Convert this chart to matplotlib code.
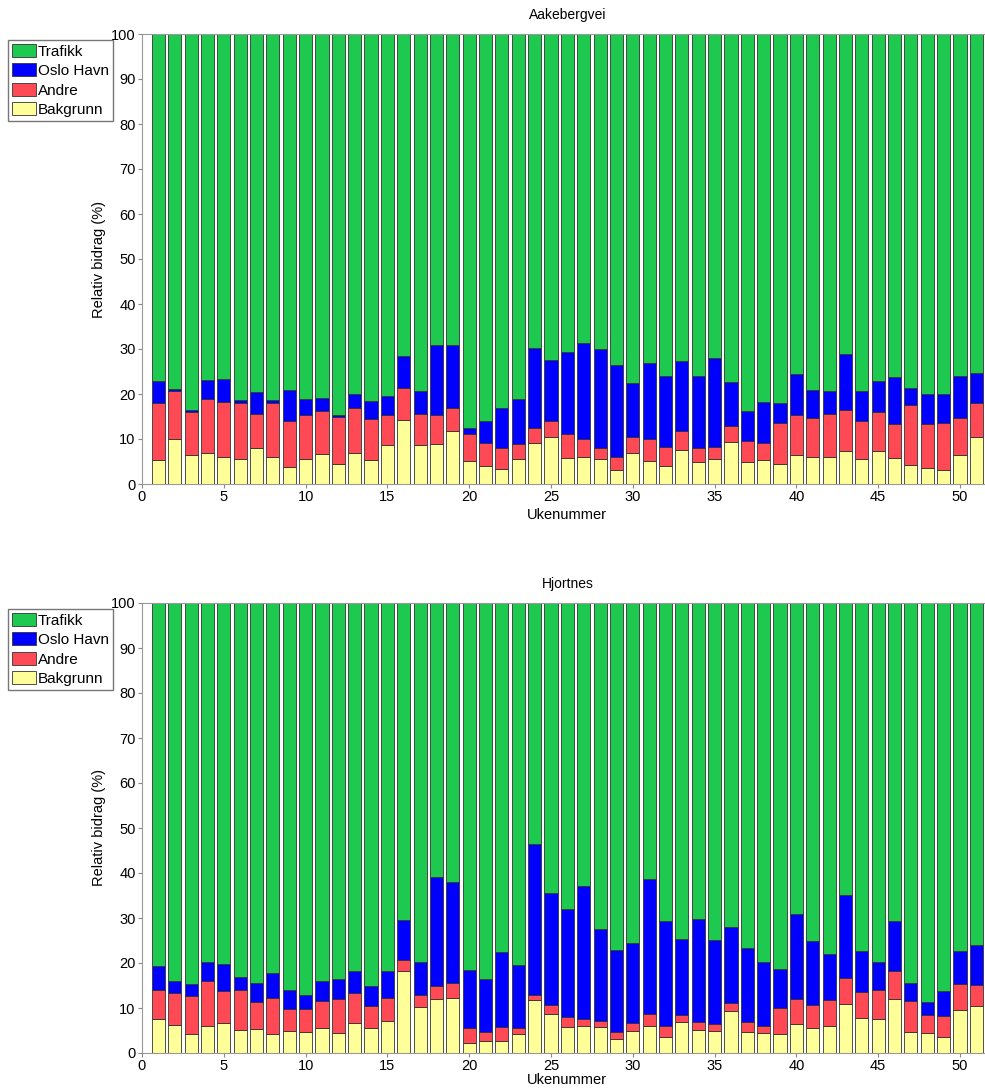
import numpy as np
import matplotlib
matplotlib.use("Agg")
import matplotlib.pyplot as plt
from matplotlib.patches import Patch

plt.rcParams['font.family'] = ['Liberation Sans', 'DejaVu Sans']

uker = np.arange(1, 52)

# Aakebergvei (relativ bidrag i %)
aak_bakgrunn = [5.3, 10.0, 6.4, 6.8, 5.9, 5.6, 8.1, 5.9, 3.8, 5.6, 6.7, 4.4, 6.8, 5.3, 8.7, 14.3, 8.6,
                8.9, 11.7, 5.2, 4.1, 3.3, 5.5, 9.1, 10.4, 5.8, 6.0, 5.5, 3.1, 6.8, 5.1, 4.0, 7.6, 4.9,
                5.5, 9.3, 4.8, 5.3, 4.4, 6.4, 5.9, 5.9, 7.3, 5.6, 7.3, 5.7, 4.2, 3.6, 3.1, 6.5, 10.4]
aak_andre = [12.6, 10.7, 9.5, 12.0, 12.4, 12.5, 7.5, 12.0, 10.1, 9.7, 9.5, 10.6, 10.2, 9.2, 6.6, 7.0, 6.9,
             6.4, 5.3, 6.0, 5.0, 4.8, 3.5, 3.3, 3.7, 5.4, 3.9, 2.6, 2.8, 3.6, 5.0, 4.2, 4.2, 3.1,
             2.7, 3.6, 4.7, 3.9, 9.2, 8.9, 8.8, 9.7, 9.1, 8.3, 8.7, 7.6, 13.4, 9.8, 10.5, 8.2, 7.6]
aak_oslo = [5.1, 0.5, 0.6, 4.3, 5.0, 0.6, 4.8, 0.7, 7.1, 3.5, 3.0, 0.3, 2.9, 4.0, 4.3, 7.1, 5.2,
            15.5, 14.0, 1.3, 5.0, 8.9, 10.0, 17.8, 13.5, 18.1, 21.5, 21.8, 20.5, 12.1, 16.9, 15.9, 15.5, 16.1,
            19.7, 9.8, 6.8, 9.0, 4.3, 9.2, 6.2, 5.1, 12.4, 6.8, 6.8, 10.4, 3.8, 6.5, 6.5, 9.4, 6.7]
aak_trafikk = [77.0, 78.8, 83.5, 76.9, 76.7, 81.3, 79.6, 81.4, 79.0, 81.2, 80.8, 84.7, 80.1, 81.5, 80.4, 71.6, 79.3,
               69.2, 69.0, 87.5, 85.9, 83.0, 81.0, 69.8, 72.4, 70.7, 68.6, 70.1, 73.6, 77.5, 73.0, 75.9, 72.7, 75.9,
               72.1, 77.3, 83.7, 81.8, 82.1, 75.5, 79.1, 79.3, 71.2, 79.3, 77.2, 76.3, 78.6, 80.1, 79.9, 75.9, 75.3]

# Hjortnes
hjo_bakgrunn = [7.5, 6.3, 4.3, 6.1, 6.7, 5.1, 5.3, 4.3, 4.9, 4.6, 5.5, 4.4, 6.6, 5.5, 7.2, 18.2, 10.2,
                12.1, 12.3, 2.2, 2.6, 2.7, 4.2, 11.8, 8.6, 5.7, 6.1, 5.8, 3.2, 4.9, 6.1, 3.6, 6.9, 5.2,
                4.8, 9.3, 4.6, 4.4, 4.3, 6.4, 5.5, 5.9, 10.9, 7.8, 7.5, 12.1, 4.6, 4.5, 3.6, 9.6, 10.5]
hjo_andre = [6.6, 7.0, 8.4, 9.8, 7.0, 9.0, 6.1, 8.0, 4.8, 5.1, 6.1, 7.7, 6.7, 5.0, 5.1, 2.5, 2.7,
             2.9, 3.2, 3.3, 2.1, 3.0, 1.3, 1.2, 2.0, 2.2, 1.4, 1.4, 1.5, 1.7, 2.5, 2.5, 1.5, 1.7,
             1.7, 1.9, 2.3, 1.5, 5.7, 5.7, 5.2, 5.9, 5.8, 5.7, 6.5, 6.1, 6.9, 3.9, 4.6, 5.8, 4.6]
hjo_oslo = [5.2, 2.8, 2.6, 4.3, 6.1, 2.8, 4.2, 5.4, 4.3, 3.3, 4.3, 4.4, 4.9, 4.4, 5.9, 8.9, 7.3,
            24.2, 22.6, 13.0, 11.7, 16.7, 14.1, 33.5, 24.9, 24.0, 29.7, 20.3, 18.1, 17.8, 30.1, 23.2, 16.9, 22.9,
            18.7, 16.7, 16.5, 14.4, 8.6, 18.9, 14.3, 10.1, 18.5, 9.1, 6.3, 11.1, 4.1, 2.9, 5.6, 7.2, 8.8]
hjo_trafikk = [80.7, 83.9, 84.7, 79.8, 80.2, 83.1, 84.4, 82.3, 86.0, 87.0, 84.1, 83.5, 81.8, 85.1, 81.8, 70.4, 79.8,
               60.8, 61.9, 81.5, 83.6, 77.6, 80.4, 53.5, 64.5, 68.1, 62.8, 72.5, 77.2, 75.6, 61.3, 70.7, 74.7, 70.2,
               74.8, 72.1, 76.6, 79.7, 81.4, 69.0, 75.0, 78.1, 64.8, 77.4, 79.7, 70.7, 84.4, 88.7, 86.2, 77.4, 76.1]

navn = ["Bakgrunn", "Andre", "Oslo Havn", "Trafikk"]
farger = ["#ffff99", "#ff4a55", "#0000ff", "#1dc94e"]

stasjoner = [
    ("Aakebergvei", [aak_bakgrunn, aak_andre, aak_oslo, aak_trafikk]),
    ("Hjortnes", [hjo_bakgrunn, hjo_andre, hjo_oslo, hjo_trafikk]),
]

fig = plt.figure(figsize=(9.85, 10.88), dpi=100)
bunner = [1 - 484 / 1088, 1 - 1053 / 1088]
xpad = [2.5, -0.5]
hoyde = 450 / 1088
venstre = 142 / 985
bredde = 52 * 16.36 / 985

for (tittel, serier), b, lp in zip(stasjoner, bunner, xpad):
    ax = fig.add_axes([venstre, b, bredde, hoyde])
    bunn = np.zeros(len(uker))
    for verdi, lab, c in zip(serier, navn, farger):
        ax.bar(uker, verdi, 0.8, bottom=bunn, color=c, edgecolor="#333333",
               linewidth=0.6, label=lab)
        bunn = bunn + np.array(verdi)
    ax.set_xlim(0, 52)
    ax.set_ylim(0, 100)
    ax.set_xticks(np.arange(0, 51, 5))
    ax.set_yticks(np.arange(0, 101, 10))
    ax.tick_params(direction="out", length=3, labelsize=10.5, color="#888888", pad=1.5)
    for s in ax.spines.values():
        s.set_color("#999999")
        s.set_linewidth(0.8)
    ax.set_title(tittel, fontsize=10, pad=11)
    ax.set_xlabel("Ukenummer", fontsize=10.5, labelpad=lp)
    ax.set_ylabel("Relativ bidrag (%)", fontsize=10.5, labelpad=4)

    handles = [Patch(facecolor=c, edgecolor="#333333", linewidth=0.6, label=l)
               for l, c in zip(navn[::-1], farger[::-1])]
    ax.legend(handles=handles, loc="upper left",
              bbox_to_anchor=(8 / 985, b + hoyde - 6 / 1088), bbox_transform=fig.transFigure,
              fontsize=11, frameon=True, fancybox=False, edgecolor="#555555",
              handlelength=1.55, handleheight=0.95, handletextpad=0.15, labelspacing=0.3,
              borderpad=0.25, borderaxespad=0)

fig.savefig("out.png", dpi=100)
